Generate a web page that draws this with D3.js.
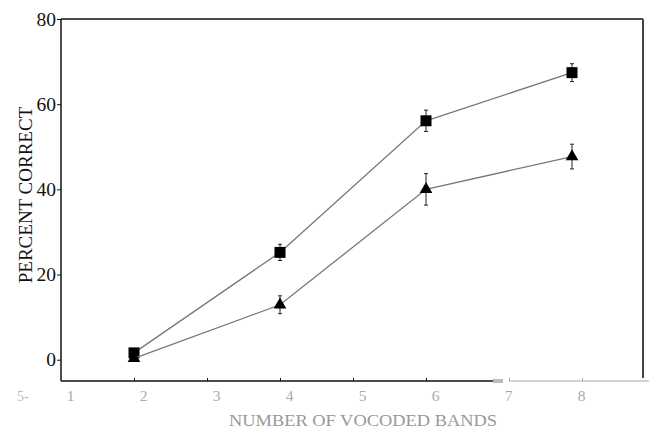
<!DOCTYPE html>
<html>
<head>
<meta charset="utf-8">
<script src="https://cdn.jsdelivr.net/npm/d3@7/dist/d3.min.js"></script>
<style>
  html, body { margin: 0; padding: 0; background: #fff; }
  svg { display: block; }
  svg text { font-family: "Liberation Serif", "DejaVu Serif", serif !important; }
</style>
</head>
<body>
<svg id="chart" width="649" height="430"></svg>
<script>
// ---- data ----
const bands = [2, 4, 6, 8];
const squareValues = [1.6, 25.2, 56.1, 67.4];
const squareErrors = [0.6, 1.9, 2.5, 2.1];
const triangleValues = [0.3, 12.9, 40.0, 47.7];
const triangleErrors = [0.4, 2.1, 3.7, 2.9];
const xTickValues = [1, 2, 3, 4, 5, 6, 7, 8];
const yTickValues = [0, 20, 40, 60, 80];
const xTitle = "NUMBER OF VOCODED BANDS";
const yTitle = "PERCENT CORRECT";

(function () {
const svg = d3.select("#chart");
const x = d3.scaleLinear().domain([1, 9]).range([61, 645]);
const y = d3.scaleLinear().domain([-5, 80]).range([381, 19]);

const pLeft = x(1), pRight = 643, pTop = y(80), pBottom = y(-5);

// frame: top + right
svg.append("line").attr("x1", pLeft).attr("x2", pRight).attr("y1", pTop).attr("y2", pTop)
  .attr("stroke", "#111").attr("stroke-width", 1.5);
svg.append("line").attr("x1", pRight).attr("x2", pRight).attr("y1", pTop).attr("y2", 378)
  .attr("stroke", "#444").attr("stroke-width", 2);

// y axis
const yAxis = svg.append("g").attr("transform", `translate(${pLeft},0)`)
  .call(d3.axisLeft(y).tickValues(yTickValues).tickSize(4).tickPadding(1).tickFormat(d3.format("d")));
yAxis.attr("font-family", null);
yAxis.select(".domain").attr("stroke", "#111").attr("stroke-width", 1.5)
  .attr("d", `M0,${pTop}V${pBottom}`);
yAxis.selectAll(".tick line").attr("stroke", "#111");
yAxis.selectAll(".tick text").attr("fill", "#111").style("font-size", "19.5px");

// bottom axis: black part with inner ticks
const xInner = svg.append("g").attr("transform", `translate(0,${pBottom})`)
  .call(d3.axisTop(x).tickValues([2, 3, 4, 5, 6]).tickSize(3).tickFormat(""));
xInner.select(".domain").attr("stroke", "#111").attr("stroke-width", 1.5)
  .attr("d", `M${pLeft},0H493`);
xInner.selectAll(".tick line").attr("stroke", "#111");

// grey pasted segment of the bottom axis
svg.append("rect").attr("x", 493).attr("y", pBottom - 2).attr("width", 10).attr("height", 4)
  .attr("fill", "#bbb");
svg.append("line").attr("x1", 509).attr("x2", 649).attr("y1", pBottom).attr("y2", pBottom)
  .attr("stroke", "#aaa").attr("stroke-width", 1.2);
const xGrey = svg.append("g").attr("transform", `translate(10,${pBottom})`)
  .call(d3.axisTop(x).tickValues([7, 8]).tickSize(3).tickFormat(""));
xGrey.select(".domain").remove();
xGrey.selectAll(".tick line").attr("stroke", "#aaa");

// x tick labels (grey, shifted right)
const xLabels = svg.append("g").attr("transform", `translate(9,${pBottom})`)
  .call(d3.axisBottom(x).tickValues(xTickValues).tickSize(0).tickPadding(9).tickFormat(d3.format("d")));
xLabels.attr("font-family", null);
xLabels.select(".domain").remove();
xLabels.selectAll(".tick text").attr("fill", "#aaa").style("font-size", "15.5px");

// stray mark at the lower left
svg.append("text").attr("x", 17).attr("y", 401).style("font-size", "14px")
  .attr("fill", "#bbb").text("5-");

// titles
svg.append("text").attr("x", 229).attr("y", 426)
  .style("font-size", "17px").attr("fill", "#999")
  .attr("textLength", 268).attr("lengthAdjust", "spacingAndGlyphs")
  .text(xTitle);
svg.append("text").attr("transform", "translate(32,195) rotate(-90)")
  .attr("text-anchor", "middle").style("font-size", "19px").attr("fill", "#111")
  .text(yTitle);

// series
const series = [
  { values: squareValues, errors: squareErrors, shape: "square" },
  { values: triangleValues, errors: triangleErrors, shape: "triangle" }
];
const line = d3.line().x(d => x(d.b)).y(d => y(d.v));

series.forEach(s => {
  const pts = bands.map((b, i) => ({ b, v: s.values[i], e: s.errors[i] }));
  svg.append("path").datum(pts).attr("d", line)
    .attr("fill", "none").attr("stroke", "#777").attr("stroke-width", 1.3);
  const eb = svg.append("g").selectAll("g").data(pts).join("g");
  eb.append("line").attr("x1", d => x(d.b)).attr("x2", d => x(d.b))
    .attr("y1", d => y(d.v + d.e)).attr("y2", d => y(d.v - d.e))
    .attr("stroke", "#222").attr("stroke-width", 1);
  eb.append("line").attr("x1", d => x(d.b) - 2).attr("x2", d => x(d.b) + 2)
    .attr("y1", d => y(d.v + d.e)).attr("y2", d => y(d.v + d.e))
    .attr("stroke", "#222").attr("stroke-width", 1);
  eb.append("line").attr("x1", d => x(d.b) - 2).attr("x2", d => x(d.b) + 2)
    .attr("y1", d => y(d.v - d.e)).attr("y2", d => y(d.v - d.e))
    .attr("stroke", "#222").attr("stroke-width", 1);
  const sym = s.shape === "square" ? d3.symbol(d3.symbolSquare, 121) : d3.symbol(d3.symbolTriangle, 70);
  svg.append("g").selectAll("path").data(pts).join("path")
    .attr("transform", d => `translate(${x(d.b)},${y(d.v)})`)
    .attr("d", sym).attr("fill", "#000");
});
})();
</script>
</body>
</html>
